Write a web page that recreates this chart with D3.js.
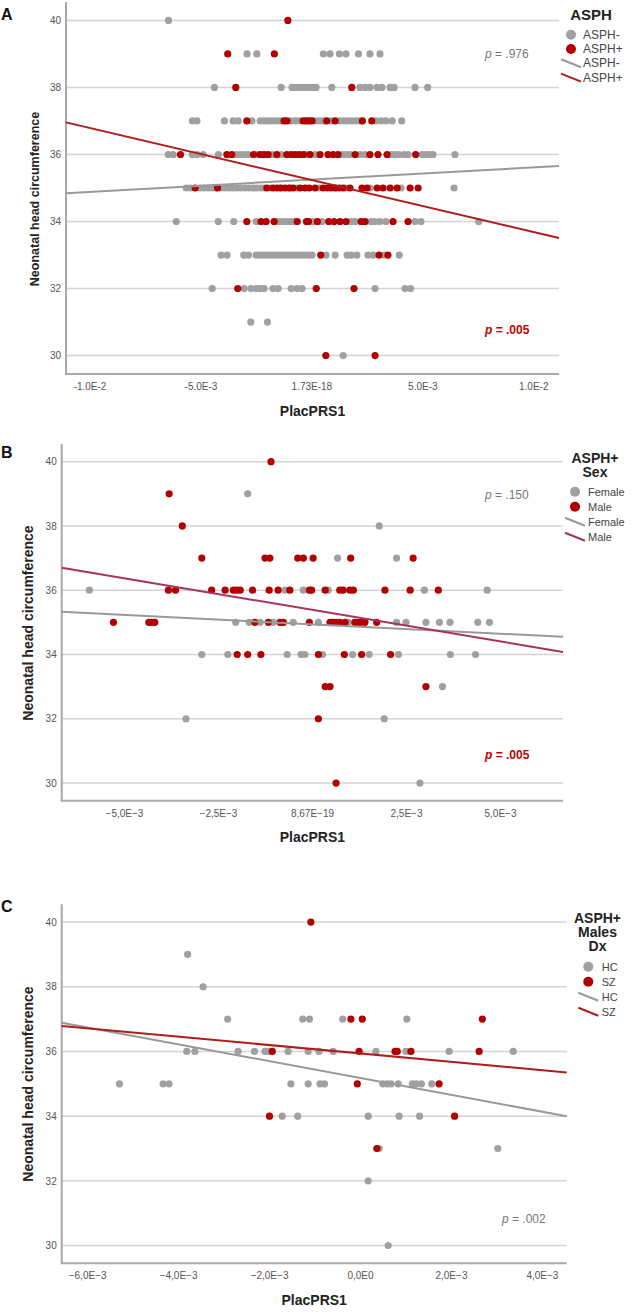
<!DOCTYPE html>
<html><head><meta charset="utf-8">
<script src="https://cdn.jsdelivr.net/npm/d3@7/dist/d3.min.js"></script>
<style>body{margin:0;background:#fff}svg{display:block}</style>
</head><body>
<svg id="chart" width="633" height="1312"></svg>
<script>
// ---------------- DATA ----------------
// x values are PlacPRS1 in units of 1E-3; each row: [head circumference, [PlacPRS1 values...]]
const yTicks = [30, 32, 34, 36, 38, 40];

// Panel A
const aTickValues = [-10, -5, 0, 5, 10];
const aTickLabels = ["-1.0E-2", "-5.0E-3", "1.73E-18", "5.0E-3", "1.0E-2"];
const aNeg = [
  [40, [-6.44]],
  [39, [-2.90, -2.46, 0.54, 0.84, 1.26, 1.56, 2.12, 2.64, 3.09]],
  [38, [-4.37, -1.36, -0.87, -0.69, -0.51, -0.33, -0.15, 0.03, 0.21, 0.92, 2.19, 2.42, 2.64, 2.96, 3.18, 3.55, 3.73, 4.67, 5.24]],
  [37, [-5.36, -5.16, -3.92, -3.53, -3.30, -2.68, -2.31, -2.13, -1.95, -1.77, -1.59, -1.41, -0.91, -0.73, -0.55, 0.21, 0.39, 0.57, 0.89, 1.29, 1.47, 1.65, 1.83, 2.01, 2.19, 2.91, 3.14, 3.36, 3.64, 4.07]],
  [36, [-6.45, -6.23, -5.37, -5.15, -4.88, -4.19, -3.39, -3.21, -3.03, -2.85, -2.45, -1.77, -1.36, -0.24, 0.17, 1.38, 1.56, 1.74, 2.19, 2.42, 3.59, 3.77, 3.95, 4.18, 4.36, 4.99, 5.17, 5.35, 5.48, 6.47]],
  [35, [-5.64, -5.46, -5.01, -4.83, -4.65, -4.47, -4.29, -4.07, -3.89, -3.71, -3.53, -3.35, -3.17, -2.99, -2.81, -2.63, -2.45, -2.27, -2.13, -1.86, -1.41, -0.96, -0.64, 0.35, 1.11, 1.56, 2.64, 4.04, 6.43]],
  [34, [-6.09, -4.20, -3.50, -2.49, -1.50, -1.32, -1.14, -0.96, -0.78, 0.08, 0.48, 1.79, 1.97, 2.69, 2.87, 3.09, 3.36, 4.67, 4.94, 7.54]],
  [33, [-4.07, -3.80, -3.05, -2.83, -2.49, -2.31, -2.13, -1.95, -1.77, -1.59, -1.41, -1.23, -1.05, -0.87, -0.69, -0.51, -0.33, -0.15, 0.03, 0.66, 1.07, 1.61, 1.79, 2.05, 2.55, 2.78, 3.27, 3.96]],
  [32, [-4.47, -3.03, -2.72, -2.49, -2.31, -2.13, -1.73, -1.50, -0.91, -0.64, -0.42, 2.87, 4.22, 4.47]],
  [31, [-2.73, -1.98]],
  [30, [1.43]]
];
const aPos = [
  [40, [-1.06]],
  [39, [-3.77, -1.67]],
  [38, [-3.41, 1.82]],
  [37, [-2.91, -1.23, -1.10, -0.37, -0.24, -0.10, 0.03, 0.69, 1.07, 2.30, 2.72]],
  [36, [-5.90, -3.81, -3.59, -2.61, -2.31, -2.13, -1.95, -1.56, -1.11, -0.91, -0.73, -0.55, -0.36, -0.06, 0.39, 0.75, 0.98, 1.20, 1.97, 2.64, 3.00, 3.41, 4.70]],
  [35, [-5.24, -4.23, -2.01, -1.73, -1.55, -1.37, -1.18, -1.00, -0.82, -0.51, -0.28, -0.10, 0.17, 0.53, 0.71, 0.89, 1.07, 1.25, 1.43, 1.74, 2.28, 2.51, 2.96, 3.23, 3.55, 3.86, 4.45, 4.81]],
  [34, [-2.91, -2.27, -2.04, -1.68, -0.64, -0.22, -0.13, 0.27, 0.78, 1.02, 1.29, 1.56, 2.24, 2.42, 3.68, 4.36]],
  [33, [0.42, 3.05, 3.45]],
  [32, [-3.32, 0.22, 1.92]],
  [30, [0.65, 2.87]]
];
// fit lines: [intercept, slope per 1E-3]
const aFitNeg = [35.25, 0.0365];
const aFitPos = [35.24, -0.1553];

// Panel B
const bTickValues = [-5, -2.5, 0, 2.5, 5];
const bTickLabels = ["\u22125,0E\u22123", "\u22122,5E\u22123", "8,67E\u221219", "2,5E\u22123", "5,0E\u22123"];
const bFemale = [
  [39, [-1.71]],
  [38, [1.79]],
  [37, [0.68, 2.25]],
  [36, [-5.92, -0.72, -0.23, 0.43, 2.99, 4.66]],
  [35, [-2.03, -1.67, -1.38, -1.03, -0.50, 0.17, 0.97, 2.25, 2.50, 3.03, 3.39, 3.67, 4.41, 4.72]],
  [34, [-2.93, -2.24, -0.66, -0.29, -0.19, 0.28, 1.08, 1.52, 2.30, 3.68, 4.35]],
  [33, [3.47]],
  [32, [-3.35, 1.92]],
  [30, [2.87]]
];
const bMale = [
  [40, [-1.09]],
  [39, [-3.80]],
  [38, [-3.45]],
  [37, [-2.93, -1.25, -1.12, -0.38, -0.23, 0.03, 1.03, 2.69]],
  [36, [-3.82, -3.63, -2.67, -2.31, -2.09, -2.00, -1.91, -1.58, -1.14, -0.90, -0.59, -0.07, -0.01, 0.35, 0.74, 0.83, 1.01, 1.10, 1.94, 2.61, 3.36]],
  [35, [-5.28, -4.34, -4.26, -4.18, -1.52, -1.16, -0.85, -0.76, -0.07, 0.48, 0.56, 0.66, 0.74, 0.88, 1.14, 1.22, 1.30, 1.41, 1.72]],
  [34, [-1.99, -1.71, -1.36, 0.17, 0.86, 1.32, 2.09]],
  [33, [0.35, 0.48, 3.03]],
  [32, [0.17]],
  [30, [0.64]]
];
const bFitFemale = [34.94, -0.0585];
const bFitMale = [35.39, -0.1965];

// Panel C
const cTickValues = [-6, -4, -2, 0, 2, 4];
const cTickLabels = ["\u22126,0E\u22123", "\u22124,0E\u22123", "\u22122,0E\u22123", "0,0E0", "2,0E\u22123", "4,0E\u22123"];
const cHC = [
  [39, [-3.79]],
  [38, [-3.45]],
  [37, [-2.91, -1.26, -1.11, -0.38, 1.03]],
  [36, [-3.81, -3.63, -2.68, -2.32, -2.09, -2.02, -1.58, -1.14, -0.90, -0.59, 0.35, 1.01, 1.96, 3.37]],
  [35, [-5.29, -4.33, -4.20, -1.52, -1.14, -0.88, -0.78, 0.50, 0.60, 0.68, 0.84, 1.15, 1.24, 1.35, 1.58]],
  [34, [-1.71, -1.37, 0.18, 0.86, 1.31]],
  [33, [0.42, 3.03]],
  [32, [0.18]],
  [30, [0.62]]
];
const cSZ = [
  [40, [-1.08]],
  [37, [-0.20, 0.05, 2.69]],
  [36, [-1.93, -0.02, 0.77, 0.82, 1.12, 2.62]],
  [35, [-0.06, 1.74]],
  [34, [-1.99, 2.08]],
  [33, [0.37]]
];
const cFitHC = [35.18, -0.2603];
const cFitSZ = [35.94, -0.1297];

// ---------------- DRAWING ----------------
const GRAY = "#a0a0a0", RED = "#b20000", GRAYLINE = "#999999", REDLINE = "#b01c1c", MALELINE = "#a8325f";
const SANS = "Arial, 'Liberation Sans', sans-serif";
const NARROW = "'Liberation Sans Narrow', 'Arial Narrow', Arial, sans-serif";
const svg = d3.select("#chart");
const yDomain = [29.45, 40.55];

function flatten(rows) {
  const out = [];
  rows.forEach(([yv, xs]) => xs.forEach(xv => out.push({ x: xv, y: yv })));
  return out;
}

function drawPanel(cfg) {
  const x = d3.scaleLinear().domain(cfg.xDomain).range([cfg.left, cfg.right]);
  const y = d3.scaleLinear().domain(yDomain).range([cfg.bottom, cfg.top]);
  const g = svg.append("g");

  // gridlines
  g.append("g").selectAll("line").data(yTicks).join("line")
    .attr("x1", cfg.left).attr("x2", cfg.right)
    .attr("y1", d => y(d)).attr("y2", d => y(d))
    .attr("stroke", "#d4d4d4").attr("stroke-width", 1.5);

  // y axis labels
  const ya = g.append("g").attr("transform", `translate(${cfg.left},0)`)
    .call(d3.axisLeft(y).tickValues(yTicks).tickSize(0).tickPadding(5).tickFormat(d3.format("d")));
  ya.select(".domain").remove();
  ya.selectAll("text").attr("font-family", SANS).attr("font-size", 10).attr("fill", "#555");

  // x axis labels
  const xa = g.append("g").attr("transform", `translate(0,${cfg.bottom})`)
    .call(d3.axisBottom(x).tickValues(cfg.ticks).tickSize(0).tickPadding(cfg.xTickPad)
      .tickFormat((d, i) => cfg.tickLabels[i]));
  xa.select(".domain").remove();
  xa.selectAll("text").attr("font-family", NARROW).attr("font-size", 10).attr("fill", "#555");

  // axis lines
  g.append("line").attr("x1", cfg.left).attr("x2", cfg.left).attr("y1", cfg.top).attr("y2", cfg.bottom)
    .attr("stroke", "#a8a8a8").attr("stroke-width", 2);
  g.append("line").attr("x1", cfg.left - 1).attr("x2", cfg.right).attr("y1", cfg.bottom).attr("y2", cfg.bottom)
    .attr("stroke", "#a8a8a8").attr("stroke-width", 2);

  // points
  cfg.groups.forEach(gr => {
    g.append("g").selectAll("circle").data(flatten(gr.rows)).join("circle")
      .attr("cx", d => x(d.x)).attr("cy", d => y(d.y)).attr("r", 3.6)
      .attr("fill", gr.color);
  });

  // fit lines
  cfg.fits.forEach(f => {
    const pts = cfg.xDomain.map(xv => [x(xv), y(f.coef[0] + f.coef[1] * xv)]);
    g.append("path").attr("d", d3.line()(pts)).attr("fill", "none")
      .attr("stroke", f.color).attr("stroke-width", 2);
  });

  // axis titles
  g.append("text").attr("x", (cfg.left + cfg.right) / 2 + 0).attr("y", cfg.xTitleY)
    .attr("text-anchor", "middle").attr("font-family", SANS).attr("font-weight", "bold")
    .attr("font-size", 14).attr("fill", "#222").text("PlacPRS1");
  g.append("text").attr("transform", `translate(${cfg.yTitleX},${cfg.yTitleCY}) rotate(-90)`)
    .attr("text-anchor", "middle").attr("font-family", SANS).attr("font-weight", "bold")
    .attr("font-size", cfg.yTitleSize).attr("fill", "#222").text("Neonatal head circumference");

  // panel letter
  g.append("text").attr("x", 1).attr("y", cfg.letterY).attr("font-family", SANS).attr("font-weight", "bold")
    .attr("font-size", 16).attr("fill", "#111").text(cfg.letter);

  // p-values
  cfg.pvals.forEach(p => {
    const t = g.append("text").attr("x", p.x).attr("y", p.y).attr("font-family", SANS)
      .attr("font-size", 12).attr("fill", p.color).attr("font-weight", p.bold ? "bold" : "normal");
    t.append("tspan").attr("font-style", "italic").text("p");
    t.append("tspan").text(" = " + p.text);
  });

  // legend
  const L = cfg.legend;
  L.title.forEach((t, i) => {
    g.append("text").attr("x", L.titleX).attr("y", L.titleY + i * 14).attr("text-anchor", "middle")
      .attr("font-family", SANS).attr("font-weight", "bold").attr("font-size", L.titleSize)
      .attr("fill", "#222").text(t);
  });
  L.items.forEach((it, i) => {
    const cy = L.itemY + i * L.step;
    if (it.type === "dot") {
      g.append("circle").attr("cx", L.markX).attr("cy", cy).attr("r", 5).attr("fill", it.color);
    } else {
      g.append("line").attr("x1", L.markX - 10).attr("x2", L.markX + 10)
        .attr("y1", cy - 4).attr("y2", cy + 4).attr("stroke", it.color).attr("stroke-width", 2);
    }
    g.append("text").attr("x", L.textX).attr("y", cy + 4).attr("font-family", SANS)
      .attr("font-size", L.itemSize).attr("fill", "#444").text(it.label);
  });
}

drawPanel({
  letter: "A", letterY: 20,
  left: 66, right: 559, top: 2, bottom: 374,
  xDomain: [-11.06, 11.16], ticks: aTickValues, tickLabels: aTickLabels, xTickPad: 9,
  xTitleY: 416, yTitleX: 39, yTitleCY: 199, yTitleSize: 12.5,
  groups: [{ rows: aNeg, color: GRAY }, { rows: aPos, color: RED }],
  fits: [{ coef: aFitNeg, color: GRAYLINE }, { coef: aFitPos, color: REDLINE }],
  pvals: [{ x: 485, y: 58, text: ".976", color: "#777", bold: false },
          { x: 485, y: 334, text: ".005", color: "#c00000", bold: true }],
  legend: { title: ["ASPH"], titleX: 591, titleY: 20, titleSize: 15,
    markX: 571, textX: 583, itemY: 34.7, step: 14.3, itemSize: 12,
    items: [{ type: "dot", color: GRAY, label: "ASPH-" }, { type: "dot", color: RED, label: "ASPH+" },
            { type: "line", color: GRAYLINE, label: "ASPH-" }, { type: "line", color: REDLINE, label: "ASPH+" }] }
});

drawPanel({
  letter: "B", letterY: 458,
  left: 61.7, right: 563, top: 444, bottom: 800.7,
  xDomain: [-6.657, 6.676], ticks: bTickValues, tickLabels: bTickLabels, xTickPad: 9,
  xTitleY: 842, yTitleX: 33, yTitleCY: 623, yTitleSize: 14,
  groups: [{ rows: bFemale, color: GRAY }, { rows: bMale, color: RED }],
  fits: [{ coef: bFitFemale, color: GRAYLINE }, { coef: bFitMale, color: MALELINE }],
  pvals: [{ x: 485, y: 499, text: ".150", color: "#777", bold: false },
          { x: 485, y: 759, text: ".005", color: "#c00000", bold: true }],
  legend: { title: ["ASPH+", "Sex"], titleX: 595, titleY: 462.5, titleSize: 14,
    markX: 575, textX: 588, itemY: 491.7, step: 15, itemSize: 11,
    items: [{ type: "dot", color: GRAY, label: "Female" }, { type: "dot", color: RED, label: "Male" },
            { type: "line", color: GRAYLINE, label: "Female" }, { type: "line", color: MALELINE, label: "Male" }] }
});

drawPanel({
  letter: "C", letterY: 912,
  left: 61.7, right: 566.7, top: 904.3, bottom: 1263.3,
  xDomain: [-6.559, 4.545], ticks: cTickValues, tickLabels: cTickLabels, xTickPad: 9,
  xTitleY: 1305, yTitleX: 33, yTitleCY: 1084, yTitleSize: 14,
  groups: [{ rows: cHC, color: GRAY }, { rows: cSZ, color: RED }],
  fits: [{ coef: cFitHC, color: GRAYLINE }, { coef: cFitSZ, color: REDLINE }],
  pvals: [{ x: 502, y: 1223, text: ".002", color: "#777", bold: false }],
  legend: { title: ["ASPH+", "Males", "Dx"], titleX: 597.5, titleY: 923, titleSize: 14,
    markX: 588.3, textX: 601.7, itemY: 966.7, step: 15, itemSize: 11,
    items: [{ type: "dot", color: GRAY, label: "HC" }, { type: "dot", color: RED, label: "SZ" },
            { type: "line", color: GRAYLINE, label: "HC" }, { type: "line", color: REDLINE, label: "SZ" }] }
});
</script>
</body></html>
